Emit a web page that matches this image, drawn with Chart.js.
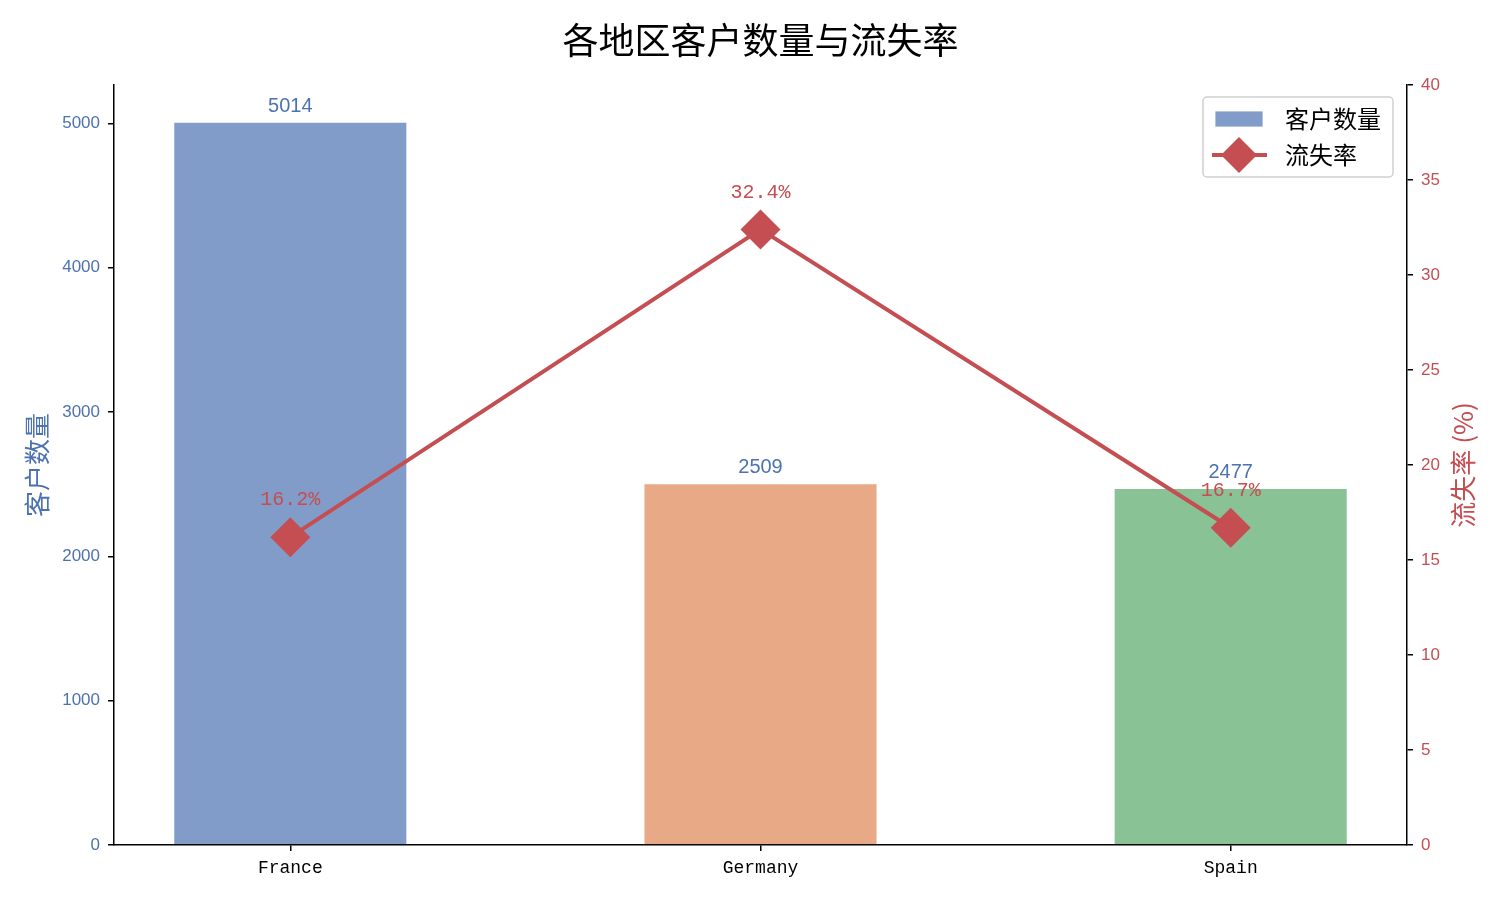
<!DOCTYPE html>
<html>
<head>
<meta charset="utf-8">
<script src="https://cdn.jsdelivr.net/npm/chart.js@4.4.1/dist/chart.umd.min.js"></script>
<style>
  html, body { margin: 0; padding: 0; background: #fff; }
  #wrap { width: 1500px; height: 900px; position: relative; }
</style>
</head>
<body>
<div id="wrap"><canvas id="myChart"></canvas></div>
<script>
// Data
var regions = ["France", "Germany", "Spain"];
var customers = [5014, 2509, 2477];
var churnRate = [16.2, 32.4, 16.7];
var leftTicks = [0, 1000, 2000, 3000, 4000, 5000];
var rightTicks = [0, 5, 10, 15, 20, 25, 30, 35, 40];

var BLUE = "#4C72B0";
var RED = "#C44E52";
var barColors = ["rgba(76,114,176,0.7)", "rgba(221,132,82,0.7)", "rgba(85,168,104,0.7)"];
var CJK = "'Noto Sans CJK SC', 'Noto Sans', sans-serif";

// Labels, title, axis titles and legend drawn on top
var overlay = {
    id: "overlay",
    afterDatasetsDraw: function (chart) {
        var c = chart.ctx;
        var x = chart.scales.x, y = chart.scales.y, y1 = chart.scales.y1;
        c.save();
        // bar values
        c.font = "20px 'Liberation Sans', Arial, sans-serif";
        c.fillStyle = BLUE;
        c.textAlign = "center";
        c.textBaseline = "bottom";
        customers.forEach(function (v, i) {
            c.fillText(String(v), x.getPixelForValue(i), y.getPixelForValue(v) - 5);
        });
        // churn values
        c.font = "20px 'Liberation Mono', monospace";
        c.fillStyle = RED;
        c.textBaseline = "middle";
        churnRate.forEach(function (v, i) {
            c.fillText(v.toFixed(1) + "%", x.getPixelForValue(i), y1.getPixelForValue(v) - 37);
        });
        c.restore();
    },
    afterDraw: function (chart) {
        var c = chart.ctx;
        var a = chart.chartArea;
        c.save();
        // title
        c.fillStyle = "#000";
        c.font = "36px " + CJK;
        c.textAlign = "center";
        c.textBaseline = "middle";
        c.fillText("各地区客户数量与流失率", (a.left + a.right) / 2, 40);

        // axis titles
        c.font = "26px " + CJK;
        c.fillStyle = BLUE;
        c.save();
        c.translate(37, (a.top + a.bottom) / 2);
        c.rotate(-Math.PI / 2);
        c.fillText("客户数量", 0, 0);
        c.restore();
        c.fillStyle = RED;
        c.save();
        c.translate(1463, (a.top + a.bottom) / 2);
        c.rotate(-Math.PI / 2);
        c.fillText("流失率 (%)", 0, 0);
        c.restore();

        // legend
        var lx = 1203, ly = 97, lw = 190, lh = 80;
        c.beginPath();
        c.roundRect(lx, ly, lw, lh, 4);
        c.fillStyle = "rgba(255,255,255,0.8)";
        c.fill();
        c.strokeStyle = "#d0d0d0";
        c.lineWidth = 1.5;
        c.stroke();

        c.fillStyle = barColors[0];
        c.fillRect(1215, 111, 48, 16);
        c.strokeStyle = "rgba(255,255,255,0.8)";
        c.lineWidth = 1;
        c.strokeRect(1215, 111, 48, 16);

        c.strokeStyle = RED;
        c.lineWidth = 4;
        c.beginPath();
        c.moveTo(1212, 155);
        c.lineTo(1267, 155);
        c.stroke();
        c.fillStyle = RED;
        c.beginPath();
        c.moveTo(1239, 137);
        c.lineTo(1257, 155);
        c.lineTo(1239, 173);
        c.lineTo(1221, 155);
        c.closePath();
        c.fill();

        c.fillStyle = "#000";
        c.font = "24px " + CJK;
        c.textAlign = "left";
        c.fillText("客户数量", 1285, 119);
        c.fillText("流失率", 1285, 155);
        c.restore();
    }
};

var axisGrid = { display: true, offset: false, drawOnChartArea: false, drawTicks: true, tickLength: 6, color: "#000", lineWidth: 1.5 };
var axisBorder = { display: true, color: "#000", width: 1.5 };

var ctx = document.getElementById("myChart").getContext("2d");
var myChart = new Chart(ctx, {
    data: {
        datasets: [
            {
                type: "line",
                label: "流失率",
                data: churnRate.map(function (v, i) { return { x: i, y: v }; }),
                yAxisID: "y1",
                borderColor: RED,
                backgroundColor: RED,
                borderWidth: 4,
                pointStyle: "rectRot",
                pointRadius: 20,
                pointBorderWidth: 0,
                tension: 0,
                order: 0
            },
            {
                type: "bar",
                label: "客户数量",
                data: customers.map(function (v, i) { return { x: i, y: v }; }),
                yAxisID: "y",
                backgroundColor: barColors,
                borderColor: "rgba(255,255,255,0.8)",
                borderWidth: 1.5,
                barPercentage: 0.5,
                categoryPercentage: 1,
                order: 1
            }
        ]
    },
    plugins: [overlay],
    options: {
        responsive: true,
        maintainAspectRatio: false,
        animation: false,
        layout: { padding: { top: 85, left: 0, right: 0, bottom: 0 } },
        plugins: {
            legend: { display: false },
            tooltip: { enabled: false },
            title: { display: false }
        },
        scales: {
            x: {
                type: "linear",
                offset: false,
                min: -0.375,
                max: 2.375,
                afterBuildTicks: function (s) {
                    s.ticks = regions.map(function (r, i) { return { value: i }; });
                },
                afterFit: function (s) { s.height = 55; },
                ticks: {
                    callback: function (v) { return regions[v]; },
                    color: "#000",
                    font: { family: "'Liberation Mono', monospace", size: 18 },
                    padding: 6,
                    maxRotation: 0
                },
                grid: axisGrid,
                border: axisBorder
            },
            y: {
                position: "left",
                min: 0,
                max: 5265,
                afterBuildTicks: function (s) {
                    s.ticks = leftTicks.map(function (v) { return { value: v }; });
                },
                afterFit: function (s) { s.width = 114; },
                ticks: {
                    callback: function (v) { return String(v); },
                    color: BLUE,
                    font: { family: "'Liberation Sans', Arial, sans-serif", size: 17 },
                    padding: 8
                },
                grid: axisGrid,
                border: axisBorder
            },
            y1: {
                position: "right",
                min: 0,
                max: 40,
                afterBuildTicks: function (s) {
                    s.ticks = rightTicks.map(function (v) { return { value: v }; });
                },
                afterFit: function (s) { s.width = 93; },
                ticks: {
                    callback: function (v) { return String(v); },
                    color: RED,
                    font: { family: "'Liberation Sans', Arial, sans-serif", size: 17 },
                    padding: 8
                },
                grid: axisGrid,
                border: axisBorder
            }
        }
    }
});
</script>
</body>
</html>
